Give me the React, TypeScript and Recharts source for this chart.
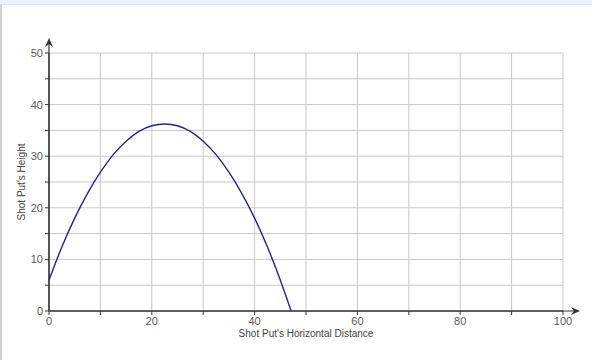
import React from "react";
import { LineChart, Line, XAxis, YAxis, CartesianGrid, ReferenceLine, Label } from "recharts";

const distances = [0, 2.5, 5, 7.5, 10, 12.5, 15, 17.5, 20, 22.5, 25, 27.5, 30, 32.5, 35, 37.5, 40, 42.5, 45, 47.1];
const heights = [6.0, 12.4, 18.0, 22.8, 26.9, 30.3, 32.9, 34.8, 35.9, 36.25, 35.9, 34.8, 32.9, 30.3, 26.9, 22.8, 18.0, 12.4, 6.0, 0];
const xTicks = [0, 10, 20, 30, 40, 50, 60, 70, 80, 90, 100];
const yTicks = [0, 5, 10, 15, 20, 25, 30, 35, 40, 45, 50];
const xTitle = "Shot Put's Horizontal Distance";
const yTitle = "Shot Put's Height";

const data = distances.map((d, i) => ({ d, h: heights[i] }));

const FONT = "Arial, 'Liberation Sans', sans-serif";
const LABEL_COLOR = "#5a5a5a";
const AXIS_COLOR = "#333333";

const XTick = (props: any) => {
  const { x, y, payload } = props;
  if (payload.value % 20 !== 0) return null;
  return (
    <text x={x} y={y} dy="0.71em" textAnchor="middle" fontSize={11} fontFamily={FONT} fill={LABEL_COLOR}>
      {payload.value}
    </text>
  );
};

const YTick = (props: any) => {
  const { x, y, payload } = props;
  if (payload.value % 10 !== 0) return null;
  return (
    <text x={x} y={y} dy="0.355em" textAnchor="end" fontSize={11} fontFamily={FONT} fill={LABEL_COLOR}>
      {payload.value}
    </text>
  );
};

const XArrow = (props: any) => {
  const { x1, y1, x2, y2 } = props;
  return (
    <g>
      <line x1={x1} y1={y1} x2={x2 - 3} y2={y2} stroke={AXIS_COLOR} strokeWidth={1.2} />
      <polygon points={`${x2},${y2} ${x2 - 9},${y2 - 4} ${x2 - 6},${y2} ${x2 - 9},${y2 + 4}`} fill={AXIS_COLOR} />
    </g>
  );
};

const YArrow = (props: any) => {
  const { x1, y1, x2, y2 } = props;
  return (
    <g>
      <line x1={x1} y1={y1} x2={x2} y2={y2 + 3} stroke={AXIS_COLOR} strokeWidth={1.2} />
      <polygon points={`${x2},${y2} ${x2 - 4},${y2 + 9} ${x2},${y2 + 6} ${x2 + 4},${y2 + 9}`} fill={AXIS_COLOR} />
    </g>
  );
};

const XTitle = (props: any) => {
  const vb = props.viewBox || {};
  return (
    <text x={vb.x + vb.width / 2} y={vb.y + 26} textAnchor="middle" fontSize={10} fontFamily={FONT} fill="#444">
      {xTitle}
    </text>
  );
};

const YTitle = (props: any) => {
  const vb = props.viewBox || {};
  const cx = vb.x + 12;
  const cy = vb.y + vb.height / 2;
  return (
    <text x={cx} y={cy} transform={`rotate(-90, ${cx}, ${cy})`} textAnchor="middle" dy="0.35em" fontSize={10} fontFamily={FONT} fill="#444">
      {yTitle}
    </text>
  );
};

export default function App() {
  return (
    <div style={{ position: "absolute", top: 0, left: 0, width: 592, height: 360, background: "#fff", overflow: "hidden" }}>
      <div style={{ position: "absolute", top: 0, left: 0, width: 592, height: 4, background: "#eef2fa", borderBottom: "1px solid #dce4f0" }} />
      <div style={{ position: "absolute", top: 5, left: 0, width: 2, height: 355, background: "#d0d0d0" }} />
      <div style={{ position: "absolute", top: 0, left: 0 }}>
        <LineChart width={592} height={360} data={data} margin={{ top: 53, right: 29, bottom: 19, left: 9 }}>
          <CartesianGrid stroke="#c8c8c8" strokeWidth={1} />
          <XAxis
            dataKey="d"
            type="number"
            domain={[0, 100]}
            ticks={xTicks}
            interval={0}
            height={30}
            tickSize={4}
            tickMargin={2}
            tickLine={{ stroke: AXIS_COLOR }}
            axisLine={{ stroke: AXIS_COLOR }}
            tick={<XTick />}
          >
            <Label content={<XTitle />} />
          </XAxis>
          <YAxis
            type="number"
            domain={[0, 50]}
            ticks={yTicks}
            interval={0}
            width={40}
            tickSize={4}
            tickMargin={2}
            tickLine={{ stroke: AXIS_COLOR }}
            axisLine={{ stroke: AXIS_COLOR }}
            tick={<YTick />}
          >
            <Label content={<YTitle />} />
          </YAxis>
          <ReferenceLine segment={[{ x: 0, y: 0 }, { x: 103.3, y: 0 }]} ifOverflow="visible" shape={<XArrow />} />
          <ReferenceLine segment={[{ x: 0, y: 0 }, { x: 0, y: 52.9 }]} ifOverflow="visible" shape={<YArrow />} />
          <Line type="monotone" dataKey="h" stroke="#22229e" strokeWidth={1.4} dot={false} isAnimationActive={false} />
        </LineChart>
      </div>
    </div>
  );
}
